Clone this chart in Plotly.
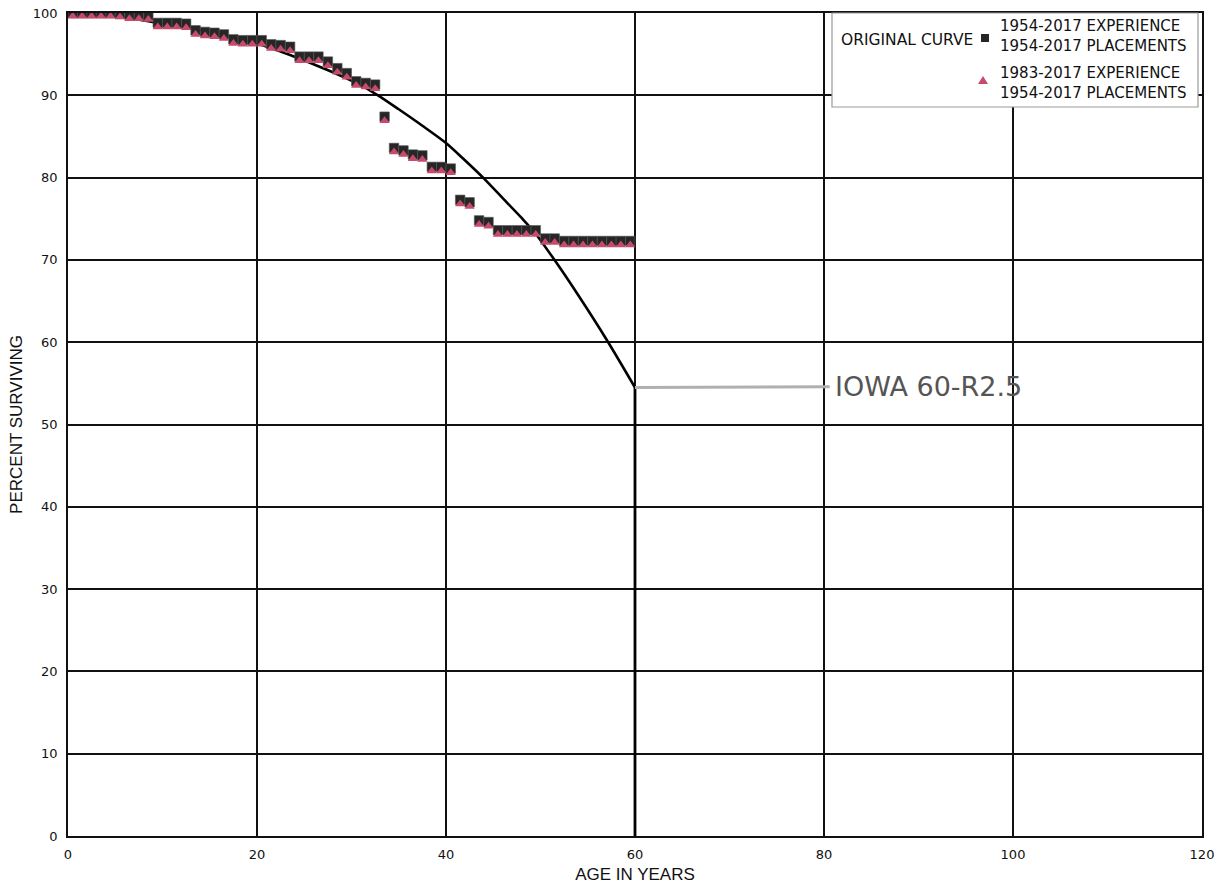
import plotly.graph_objects as go

# ---------------- data ----------------
age_points = [0.5, 1.5, 2.5, 3.5, 4.5, 5.5, 6.5, 7.5, 8.5, 9.5,
              10.5, 11.5, 12.5, 13.5, 14.5, 15.5, 16.5, 17.5, 18.5, 19.5,
              20.5, 21.5, 22.5, 23.5, 24.5, 25.5, 26.5, 27.5, 28.5, 29.5,
              30.5, 31.5, 32.5, 33.5, 34.5, 35.5, 36.5, 37.5, 38.5, 39.5,
              40.5, 41.5, 42.5, 43.5, 44.5, 45.5, 46.5, 47.5, 48.5, 49.5,
              50.5, 51.5, 52.5, 53.5, 54.5, 55.5, 56.5, 57.5, 58.5, 59.5]

exp_1954 = [100.0, 100.0, 100.0, 100.0, 100.0, 99.9, 99.8, 99.8, 99.7, 98.8,
             98.8, 98.8, 98.7, 97.9, 97.7, 97.6, 97.4, 96.8, 96.7, 96.7,
             96.7, 96.2, 96.1, 95.9, 94.7, 94.7, 94.7, 94.1, 93.3, 92.7,
             91.7, 91.5, 91.3, 87.4, 83.6, 83.3, 82.8, 82.7, 81.3, 81.3,
             81.1, 77.3, 77.0, 74.8, 74.6, 73.6, 73.6, 73.6, 73.6, 73.6,
             72.6, 72.6, 72.3, 72.3, 72.3, 72.3, 72.3, 72.3, 72.3, 72.3]

exp_1983 = [99.6, 99.6, 99.6, 99.6, 99.6, 99.5, 99.3, 99.3, 99.2, 98.3,
             98.3, 98.3, 98.2, 97.4, 97.2, 97.1, 96.9, 96.3, 96.2, 96.2,
             96.2, 95.7, 95.6, 95.4, 94.2, 94.2, 94.2, 93.6, 92.8, 92.2,
             91.2, 91.0, 90.8, 86.9, 83.1, 82.8, 82.3, 82.2, 80.8, 80.8,
             80.6, 76.8, 76.5, 74.3, 74.1, 73.1, 73.1, 73.1, 73.1, 73.1,
             72.1, 72.1, 71.8, 71.8, 71.8, 71.8, 71.8, 71.8, 71.8, 71.8]

# original (Iowa 60-R2.5) curve, truncated at age 60
curve_age = [0, 5, 10, 15, 20, 23.5, 27.4, 30.5, 32.8, 35, 37.5, 40, 42, 44,
             46, 48, 49.4, 51.6, 54, 57, 60]
curve_pct = [100, 99.6, 98.7, 97.7, 96.3, 94.9, 93.1, 91.5, 90.0, 88.3, 86.3,
             84.2, 82.1, 79.9, 77.5, 75.1, 73.3, 69.8, 65.7, 60.3, 54.5]
truncation_age = [60, 60]
truncation_pct = [54.5, 0]

x_ticks = [0, 20, 40, 60, 80, 100, 120]
y_ticks = [0, 10, 20, 30, 40, 50, 60, 70, 80, 90, 100]

curve_label = "IOWA 60-R2.5"
legend_curve = "ORIGINAL CURVE"
legend_sq = "1954-2017 EXPERIENCE<br>1954-2017 PLACEMENTS"
legend_tri = "1983-2017 EXPERIENCE<br>1954-2017 PLACEMENTS"

# ---------------- layout geometry ----------------
W, H = 1228, 886
ML, MR, MT, MB = 68, 26, 13, 50
PW = W - ML - MR
PH = H - MT - MB

def px(xp):
    return (xp - ML) / PW

def py(yp):
    return (H - MB - yp) / PH

SQ_COLOR = "#262626"
TRI_COLOR = "#c74a6c"

fig = go.Figure()

fig.add_trace(go.Scatter(
    x=curve_age, y=curve_pct, mode="lines",
    line=dict(color="black", width=2.6, shape="spline", smoothing=0.8),
    showlegend=False, hoverinfo="skip"))
fig.add_trace(go.Scatter(
    x=truncation_age, y=truncation_pct, mode="lines",
    line=dict(color="black", width=2.8), showlegend=False, hoverinfo="skip"))

fig.add_trace(go.Scatter(
    x=age_points, y=exp_1954, mode="markers",
    marker=dict(symbol="square", size=9.5, color=SQ_COLOR,
                line=dict(width=0.6, color="#555")),
    showlegend=False))

fig.add_trace(go.Scatter(
    x=age_points, y=exp_1983, mode="markers",
    marker=dict(symbol="triangle-up", size=9, color=TRI_COLOR,
                line=dict(width=0)),
    showlegend=False))

shapes = []
annotations = []

# leader line for curve label
shapes.append(dict(type="line", xref="x", yref="y", x0=60, y0=54.5, x1=80.6, y1=54.6,
                   line=dict(color="#b0b0b0", width=3), layer="above"))
annotations.append(dict(x=81.0, y=54.6, xref="x", yref="y", text=curve_label,
                        showarrow=False, xanchor="left", yanchor="middle",
                        font=dict(family="DejaVu Sans", size=27, color="#555555")))

# legend box
shapes.append(dict(type="rect", xref="paper", yref="paper",
                   x0=px(832), x1=px(1198), y0=py(107), y1=py(13),
                   fillcolor="white", line=dict(color="#9a9a9a", width=1.2),
                   layer="above"))
# legend square marker
shapes.append(dict(type="rect", xref="paper", yref="paper",
                   x0=px(981), x1=px(989), y0=py(42), y1=py(34),
                   fillcolor=SQ_COLOR, line=dict(width=0), layer="above"))
# legend triangle marker
tx0, tx1, tx2 = px(978), px(988), px(983)
ty0, ty1 = py(84), py(76)
shapes.append(dict(type="path", xref="paper", yref="paper",
                   path=f"M {tx0},{ty0} L {tx1},{ty0} L {tx2},{ty1} Z",
                   fillcolor=TRI_COLOR, line=dict(width=0), layer="above"))

leg_font = dict(family="DejaVu Sans", size=15, color="#111111")
annotations.append(dict(x=px(839), y=py(40), xref="paper", yref="paper",
                        text=legend_curve, showarrow=False, xanchor="left",
                        yanchor="middle",
                        font=dict(family="DejaVu Sans", size=15.5, color="#111111")))
annotations.append(dict(x=px(998), y=py(36.5), xref="paper", yref="paper",
                        text=legend_sq, showarrow=False, xanchor="left",
                        yanchor="middle", align="left", font=leg_font))
annotations.append(dict(x=px(998), y=py(83), xref="paper", yref="paper",
                        text=legend_tri, showarrow=False, xanchor="left",
                        yanchor="middle", align="left", font=leg_font))

tick_font = dict(family="DejaVu Sans", size=13, color="#111111")
title_font = dict(family="Liberation Sans", size=17, color="#111111")

fig.update_layout(
    width=W, height=H,
    margin=dict(l=ML, r=MR, t=MT, b=MB, pad=0, autoexpand=False),
    paper_bgcolor="white", plot_bgcolor="white",
    shapes=shapes, annotations=annotations,
    showlegend=False,
    xaxis=dict(range=[0, 120], tickvals=x_ticks, ticktext=[str(v) for v in x_ticks],
               showgrid=True, gridcolor="#111111", gridwidth=1.6, automargin=False,
               zeroline=False, showline=True, linecolor="#111111", linewidth=1.6,
               mirror=True, ticks="", tickfont=tick_font, ticklabelstandoff=6,
               title=dict(text="AGE IN YEARS", font=title_font, standoff=7)),
    yaxis=dict(range=[0, 100], tickvals=y_ticks, ticktext=[str(v) for v in y_ticks],
               showgrid=True, gridcolor="#111111", gridwidth=1.6, automargin=False,
               zeroline=False, showline=True, linecolor="#111111", linewidth=1.6,
               mirror=True, ticks="", tickfont=tick_font, ticklabelstandoff=6,
               title=dict(text="PERCENT SURVIVING", font=title_font, standoff=6)),
)

fig.write_html("out.html")
